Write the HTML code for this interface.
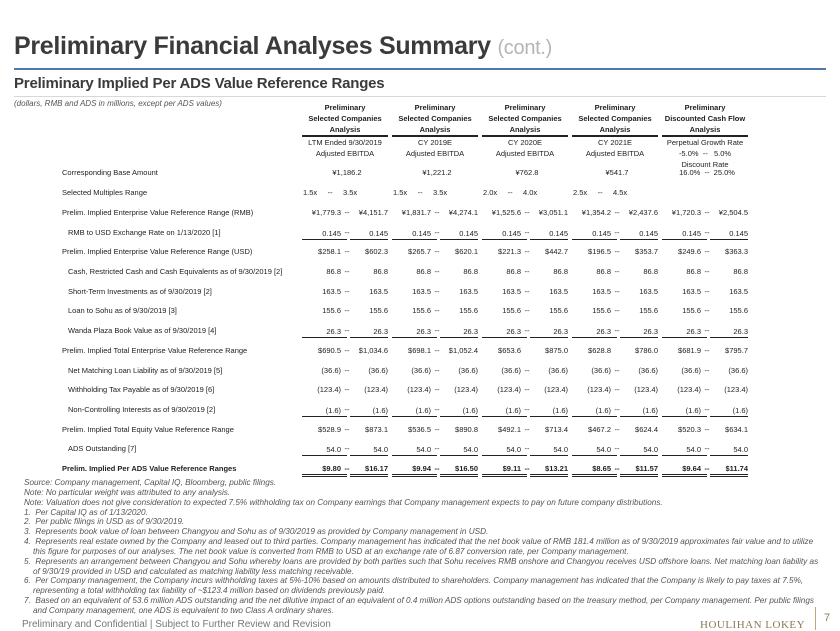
<!DOCTYPE html>
<html><head><meta charset="utf-8">
<style>
*{margin:0;padding:0;box-sizing:border-box}
body{width:840px;height:630px;background:#fff;font-family:"Liberation Sans",Arial,sans-serif;color:#222;position:relative;overflow:hidden}
.abs{position:absolute;white-space:nowrap}
#title{left:14px;top:32px;font-size:25px;font-weight:bold;color:#3b3b3b;letter-spacing:-0.3px}
#title span{font-weight:normal;color:#b5b5b5;font-size:20px}
#bl{left:14px;top:68px;width:812px;height:2px;background:#4b79a8}
#sub{left:14px;top:75px;font-size:15px;font-weight:bold;color:#3b3b3b;letter-spacing:-0.2px}
#gl{left:14px;top:96px;width:812px;height:1px;background:#d8d8d8}
#note{left:14px;top:99px;font-size:8px;font-style:italic;color:#555}
.hd{position:absolute;width:86px;text-align:center;font-size:7.5px;line-height:11px}
.hd b{display:block;border-bottom:2px solid #222;padding-bottom:0px}
table{position:absolute;left:0;top:163px;border-collapse:collapse;table-layout:fixed;font-size:7.5px}
td{height:19.73px;padding:0;white-space:nowrap;vertical-align:middle}
td.l{width:302px;padding-left:62px}
td.i{padding-left:68px}
td.a{width:42px;text-align:right;padding-right:3px}
td.d{width:6px;text-align:center}
td.b{width:40px;text-align:right;padding-right:2px}
td.g{width:2px}
td.m{padding-left:1px;white-space:pre}
tr.u td.a span,tr.u td.b span{display:block;border-bottom:1px solid #222;line-height:10px;margin-top:4px}
tr.dd td.a span,tr.dd td.b span{display:block;border-bottom:3px double #222;line-height:10px;margin-top:4px}
tr.u td.a span,tr.dd td.a span{margin-right:-6px;padding-right:6px}
tr.bold td{font-weight:bold}
td.c{text-align:center}
#fn{left:24px;top:478px;font-size:8.2px;font-style:italic;color:#555;line-height:9.85px}
#fn div.n{padding-left:9px;text-indent:-9px}
#foot{left:22px;top:619px;font-size:10px;color:#777}
#logo{left:700px;top:619px;font-size:11px;font-family:"Liberation Serif",serif;color:#8a7a55;letter-spacing:0.5px}
#vl{left:815px;top:607px;width:1px;height:23px;background:#b9a97e}
#pg{left:824px;top:612px;font-size:11px;color:#8a7a55}
</style></head><body>
<div class="abs" id="title">Preliminary Financial Analyses Summary <span>(cont.)</span></div>
<div class="abs" id="bl"></div>
<div class="abs" id="sub">Preliminary Implied Per ADS Value Reference Ranges</div>
<div class="abs" id="gl"></div>
<div class="abs" id="note">(dollars, RMB and ADS in millions, except per ADS values)</div>

<div class="hd" style="left:302px;top:102px"><b>Preliminary<br>Selected Companies<br>Analysis</b>LTM Ended 9/30/2019<br>Adjusted EBITDA</div>
<div class="hd" style="left:392px;top:102px"><b>Preliminary<br>Selected Companies<br>Analysis</b>CY 2019E<br>Adjusted EBITDA</div>
<div class="hd" style="left:482px;top:102px"><b>Preliminary<br>Selected Companies<br>Analysis</b>CY 2020E<br>Adjusted EBITDA</div>
<div class="hd" style="left:572px;top:102px"><b>Preliminary<br>Selected Companies<br>Analysis</b>CY 2021E<br>Adjusted EBITDA</div>
<div class="hd" style="left:662px;top:102px"><b>Preliminary<br>Discounted Cash Flow<br>Analysis</b>Perpetual Growth Rate<br>-5.0% &nbsp;-- &nbsp;&nbsp;5.0%<br>Discount Rate</div>

<table>
<tr><td class="l">Corresponding Base Amount</td><td class="c" colspan="4">¥1,186.2</td><td class="c" colspan="4">¥1,221.2</td><td class="c" colspan="4">¥762.8</td><td class="c" colspan="4">¥541.7</td><td class="c" colspan="4">16.0% &nbsp;-- &nbsp;25.0%</td></tr>
<tr><td class="l">Selected Multiples Range</td><td class="m" colspan="4">1.5x     --     3.5x</td><td class="m" colspan="4">1.5x     --     3.5x</td><td class="m" colspan="4">2.0x     --     4.0x</td><td class="m" colspan="4">2.5x     --     4.5x</td><td colspan="4"></td></tr>
<tr><td class="l">Prelim. Implied Enterprise Value Reference Range (RMB)</td><td class="a">¥1,779.3</td><td class="d">--</td><td class="b">¥4,151.7</td><td class="g"></td><td class="a">¥1,831.7</td><td class="d">--</td><td class="b">¥4,274.1</td><td class="g"></td><td class="a">¥1,525.6</td><td class="d">--</td><td class="b">¥3,051.1</td><td class="g"></td><td class="a">¥1,354.2</td><td class="d">--</td><td class="b">¥2,437.6</td><td class="g"></td><td class="a">¥1,720.3</td><td class="d">--</td><td class="b">¥2,504.5</td><td class="g"></td></tr>
<tr class="u"><td class="l i">RMB to USD Exchange Rate on 1/13/2020 [1]</td><td class="a"><span>0.145</span></td><td class="d">--</td><td class="b"><span>0.145</span></td><td class="g"></td><td class="a"><span>0.145</span></td><td class="d">--</td><td class="b"><span>0.145</span></td><td class="g"></td><td class="a"><span>0.145</span></td><td class="d">--</td><td class="b"><span>0.145</span></td><td class="g"></td><td class="a"><span>0.145</span></td><td class="d">--</td><td class="b"><span>0.145</span></td><td class="g"></td><td class="a"><span>0.145</span></td><td class="d">--</td><td class="b"><span>0.145</span></td><td class="g"></td></tr>
<tr><td class="l">Prelim. Implied Enterprise Value Reference Range (USD)</td><td class="a">$258.1</td><td class="d">--</td><td class="b">$602.3</td><td class="g"></td><td class="a">$265.7</td><td class="d">--</td><td class="b">$620.1</td><td class="g"></td><td class="a">$221.3</td><td class="d">--</td><td class="b">$442.7</td><td class="g"></td><td class="a">$196.5</td><td class="d">--</td><td class="b">$353.7</td><td class="g"></td><td class="a">$249.6</td><td class="d">--</td><td class="b">$363.3</td><td class="g"></td></tr>
<tr><td class="l i">Cash, Restricted Cash and Cash Equivalents as of 9/30/2019 [2]</td><td class="a">86.8</td><td class="d">--</td><td class="b">86.8</td><td class="g"></td><td class="a">86.8</td><td class="d">--</td><td class="b">86.8</td><td class="g"></td><td class="a">86.8</td><td class="d">--</td><td class="b">86.8</td><td class="g"></td><td class="a">86.8</td><td class="d">--</td><td class="b">86.8</td><td class="g"></td><td class="a">86.8</td><td class="d">--</td><td class="b">86.8</td><td class="g"></td></tr>
<tr><td class="l i">Short-Term Investments as of 9/30/2019 [2]</td><td class="a">163.5</td><td class="d">--</td><td class="b">163.5</td><td class="g"></td><td class="a">163.5</td><td class="d">--</td><td class="b">163.5</td><td class="g"></td><td class="a">163.5</td><td class="d">--</td><td class="b">163.5</td><td class="g"></td><td class="a">163.5</td><td class="d">--</td><td class="b">163.5</td><td class="g"></td><td class="a">163.5</td><td class="d">--</td><td class="b">163.5</td><td class="g"></td></tr>
<tr><td class="l i">Loan to Sohu as of 9/30/2019 [3]</td><td class="a">155.6</td><td class="d">--</td><td class="b">155.6</td><td class="g"></td><td class="a">155.6</td><td class="d">--</td><td class="b">155.6</td><td class="g"></td><td class="a">155.6</td><td class="d">--</td><td class="b">155.6</td><td class="g"></td><td class="a">155.6</td><td class="d">--</td><td class="b">155.6</td><td class="g"></td><td class="a">155.6</td><td class="d">--</td><td class="b">155.6</td><td class="g"></td></tr>
<tr class="u"><td class="l i">Wanda Plaza Book Value as of 9/30/2019 [4]</td><td class="a"><span>26.3</span></td><td class="d">--</td><td class="b"><span>26.3</span></td><td class="g"></td><td class="a"><span>26.3</span></td><td class="d">--</td><td class="b"><span>26.3</span></td><td class="g"></td><td class="a"><span>26.3</span></td><td class="d">--</td><td class="b"><span>26.3</span></td><td class="g"></td><td class="a"><span>26.3</span></td><td class="d">--</td><td class="b"><span>26.3</span></td><td class="g"></td><td class="a"><span>26.3</span></td><td class="d">--</td><td class="b"><span>26.3</span></td><td class="g"></td></tr>
<tr><td class="l">Prelim. Implied Total Enterprise Value Reference Range</td><td class="a">$690.5</td><td class="d">--</td><td class="b">$1,034.6</td><td class="g"></td><td class="a">$698.1</td><td class="d">--</td><td class="b">$1,052.4</td><td class="g"></td><td class="a">$653.6</td><td class="d"></td><td class="b">$875.0</td><td class="g"></td><td class="a">$628.8</td><td class="d"></td><td class="b">$786.0</td><td class="g"></td><td class="a">$681.9</td><td class="d">--</td><td class="b">$795.7</td><td class="g"></td></tr>
<tr><td class="l i">Net Matching Loan Liability as of 9/30/2019 [5]</td><td class="a">(36.6)</td><td class="d">--</td><td class="b">(36.6)</td><td class="g"></td><td class="a">(36.6)</td><td class="d">--</td><td class="b">(36.6)</td><td class="g"></td><td class="a">(36.6)</td><td class="d">--</td><td class="b">(36.6)</td><td class="g"></td><td class="a">(36.6)</td><td class="d">--</td><td class="b">(36.6)</td><td class="g"></td><td class="a">(36.6)</td><td class="d">--</td><td class="b">(36.6)</td><td class="g"></td></tr>
<tr><td class="l i">Withholding Tax Payable as of 9/30/2019 [6]</td><td class="a">(123.4)</td><td class="d">--</td><td class="b">(123.4)</td><td class="g"></td><td class="a">(123.4)</td><td class="d">--</td><td class="b">(123.4)</td><td class="g"></td><td class="a">(123.4)</td><td class="d">--</td><td class="b">(123.4)</td><td class="g"></td><td class="a">(123.4)</td><td class="d">--</td><td class="b">(123.4)</td><td class="g"></td><td class="a">(123.4)</td><td class="d">--</td><td class="b">(123.4)</td><td class="g"></td></tr>
<tr class="u"><td class="l i">Non-Controlling Interests as of 9/30/2019 [2]</td><td class="a"><span>(1.6)</span></td><td class="d">--</td><td class="b"><span>(1.6)</span></td><td class="g"></td><td class="a"><span>(1.6)</span></td><td class="d">--</td><td class="b"><span>(1.6)</span></td><td class="g"></td><td class="a"><span>(1.6)</span></td><td class="d">--</td><td class="b"><span>(1.6)</span></td><td class="g"></td><td class="a"><span>(1.6)</span></td><td class="d">--</td><td class="b"><span>(1.6)</span></td><td class="g"></td><td class="a"><span>(1.6)</span></td><td class="d">--</td><td class="b"><span>(1.6)</span></td><td class="g"></td></tr>
<tr><td class="l">Prelim. Implied Total Equity Value Reference Range</td><td class="a">$528.9</td><td class="d">--</td><td class="b">$873.1</td><td class="g"></td><td class="a">$536.5</td><td class="d">--</td><td class="b">$890.8</td><td class="g"></td><td class="a">$492.1</td><td class="d">--</td><td class="b">$713.4</td><td class="g"></td><td class="a">$467.2</td><td class="d">--</td><td class="b">$624.4</td><td class="g"></td><td class="a">$520.3</td><td class="d">--</td><td class="b">$634.1</td><td class="g"></td></tr>
<tr class="u"><td class="l i">ADS Outstanding [7]</td><td class="a"><span>54.0</span></td><td class="d">--</td><td class="b"><span>54.0</span></td><td class="g"></td><td class="a"><span>54.0</span></td><td class="d">--</td><td class="b"><span>54.0</span></td><td class="g"></td><td class="a"><span>54.0</span></td><td class="d">--</td><td class="b"><span>54.0</span></td><td class="g"></td><td class="a"><span>54.0</span></td><td class="d">--</td><td class="b"><span>54.0</span></td><td class="g"></td><td class="a"><span>54.0</span></td><td class="d">--</td><td class="b"><span>54.0</span></td><td class="g"></td></tr>
<tr class="dd bold"><td class="l">Prelim. Implied Per ADS Value Reference Ranges</td><td class="a"><span>$9.80</span></td><td class="d">--</td><td class="b"><span>$16.17</span></td><td class="g"></td><td class="a"><span>$9.94</span></td><td class="d">--</td><td class="b"><span>$16.50</span></td><td class="g"></td><td class="a"><span>$9.11</span></td><td class="d">--</td><td class="b"><span>$13.21</span></td><td class="g"></td><td class="a"><span>$8.65</span></td><td class="d">--</td><td class="b"><span>$11.57</span></td><td class="g"></td><td class="a"><span>$9.64</span></td><td class="d">--</td><td class="b"><span>$11.74</span></td><td class="g"></td></tr>
</table>

<div class="abs" id="fn">
<div>Source: Company management, Capital IQ, Bloomberg, public filings.</div>
<div>Note: No particular weight was attributed to any analysis.</div>
<div>Note: Valuation does not give consideration to expected 7.5% withholding tax on Company earnings that Company management expects to pay on future company distributions.</div>
<div class="n">1.&nbsp; Per Capital IQ as of 1/13/2020.</div>
<div class="n">2.&nbsp; Per public filings in USD as of 9/30/2019.</div>
<div class="n">3.&nbsp; Represents book value of loan between Changyou and Sohu as of 9/30/2019 as provided by Company management in USD.</div>
<div class="n">4.&nbsp; Represents real estate owned by the Company and leased out to third parties. Company management has indicated that the net book value of RMB 181.4 million as of 9/30/2019 approximates fair value and to utilize<br>this figure for purposes of our analyses. The net book value is converted from RMB to USD at an exchange rate of 6.87 conversion rate, per Company management.</div>
<div class="n">5.&nbsp; Represents an arrangement between Changyou and Sohu whereby loans are provided by both parties such that Sohu receives RMB onshore and Changyou receives USD offshore loans. Net matching loan liability as<br>of 9/30/19 provided in USD and calculated as matching liability less matching receivable.</div>
<div class="n">6.&nbsp; Per Company management, the Company incurs withholding taxes at 5%-10% based on amounts distributed to shareholders. Company management has indicated that the Company is likely to pay taxes at 7.5%,<br>representing a total withholding tax liability of ~$123.4 million based on dividends previously paid.</div>
<div class="n">7.&nbsp; Based on an equivalent of 53.6 million ADS outstanding and the net dilutive impact of an equivalent of 0.4 million ADS options outstanding based on the treasury method, per Company management. Per public filings<br>and Company management, one ADS is equivalent to two Class A ordinary shares.</div>
</div>
<div class="abs" id="foot">Preliminary and Confidential | Subject to Further Review and Revision</div>
<div class="abs" id="logo">HOULIHAN LOKEY</div>
<div class="abs" id="vl"></div>
<div class="abs" id="pg">7</div>
</body></html>
